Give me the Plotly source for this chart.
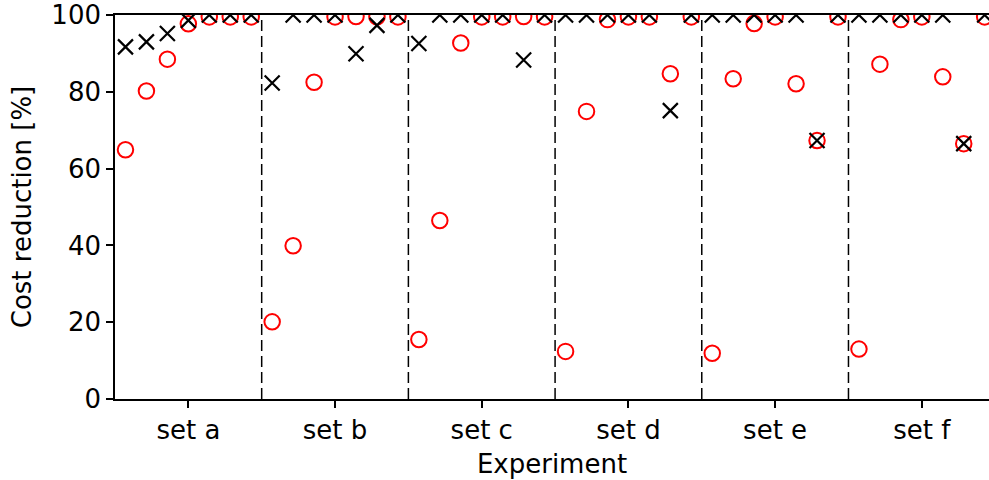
import plotly.graph_objects as go

sets = ["set a", "set b", "set c", "set d", "set e", "set f"]

# red open circles
circle_vals = [
    [64.9, 80.2, 88.5, 97.7, 99.5, 99.5, 99.5],
    [20.1, 39.9, 82.5, 99.5, 99.6, 99.5, 99.5],
    [15.5, 46.5, 92.7, 99.5, 99.5, 99.6, 99.5],
    [12.4, 74.9, 98.8, 99.5, 99.5, 84.7, 99.5],
    [11.9, 83.4, 97.8, 99.5, 82.1, 67.3, 99.5],
    [13.0, 87.2, 98.8, 99.5, 83.9, 66.5, 99.5],
]
# black crosses
cross_vals = [
    [91.7, 93.0, 95.2, 98.6, 100, 100, 100],
    [82.3, 100, 100, 100, 89.9, 97.3, 100],
    [92.6, 100, 100, 100, 100, 88.3, 100],
    [100, 100, 100, 100, 100, 75.1, 100],
    [100, 100, 100, 100, 100, 67.3, 100],
    [100, 100, 100, 100, 100, 66.5, 100],
]
y_ticks = [0, 20, 40, 60, 80, 100]


def positions(vals):
    xs, ys = [], []
    for i, row in enumerate(vals):
        n = len(row)
        for k, v in enumerate(row):
            xs.append(i + (k - (n - 1) / 2) / n)
            ys.append(v)
    return xs, ys


cx, cy = positions(circle_vals)
xx, xy = positions(cross_vals)

FONT = "DejaVu Sans"
FS = 26

fig = go.Figure()
fig.add_trace(go.Scatter(
    x=cx, y=cy, mode="markers", cliponaxis=True,
    marker=dict(symbol="circle-open", size=15.5, color="red", line=dict(width=2, color="red")),
    showlegend=False,
))
fig.add_trace(go.Scatter(
    x=xx, y=xy, mode="markers", cliponaxis=True,
    marker=dict(symbol="x-thin-open", size=15, color="black", line=dict(width=2.2, color="black")),
    showlegend=False,
))

for i in range(len(sets) - 1):
    fig.add_shape(type="line", x0=i + 0.5, x1=i + 0.5, y0=0, y1=1, xref="x", yref="paper",
                  line=dict(color="black", width=1.5, dash="11px,5px"), layer="below")

fig.update_layout(
    width=989, height=480,
    margin=dict(l=115, r=0, t=13, b=81),
    paper_bgcolor="white", plot_bgcolor="white",
    font=dict(family=FONT, size=FS, color="black"),
)
fig.update_xaxes(
    range=[-0.5, 5.458],
    tickvals=list(range(len(sets))), ticktext=sets,
    tickfont=dict(family=FONT, size=FS, color="black"),
    showgrid=False, zeroline=False,
    showline=True, linecolor="black", linewidth=1.6, mirror=True,
    ticks="outside", ticklen=7, tickwidth=1.6, tickcolor="black",
    title=dict(text="Experiment", standoff=11, font=dict(family=FONT, size=FS, color="black")),
)
fig.update_yaxes(
    range=[0, 100.0001],
    tickvals=y_ticks,
    tickfont=dict(family=FONT, size=FS, color="black"),
    ticklabeloverflow="allow",
    showgrid=False, zeroline=False,
    showline=True, linecolor="black", linewidth=1.6,
    ticks="outside", ticklen=7, tickwidth=1.6, tickcolor="black",
    title=dict(text="Cost reduction [%]", standoff=12, font=dict(family=FONT, size=FS, color="black")),
)

fig.write_html("out.html")
